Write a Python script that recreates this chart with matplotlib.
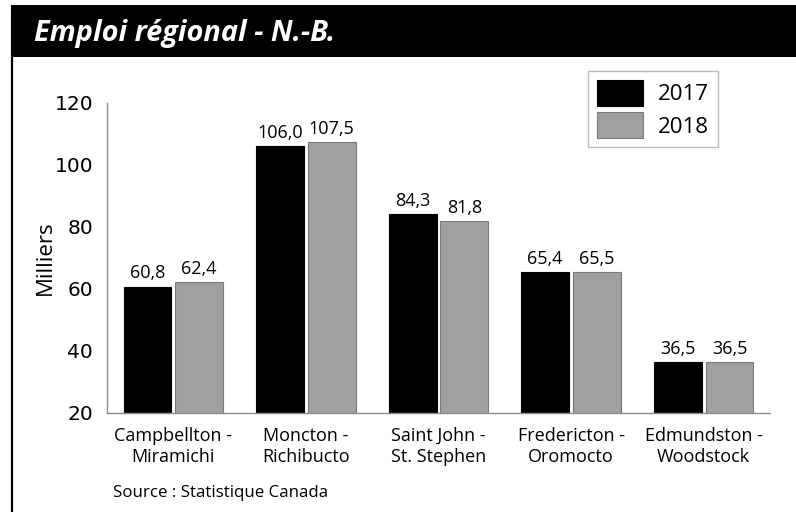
import matplotlib.pyplot as plt
import numpy as np
from matplotlib.patches import Rectangle
from matplotlib.lines import Line2D

regions = ["Campbellton -\nMiramichi", "Moncton -\nRichibucto", "Saint John -\nSt. Stephen",
           "Fredericton -\nOromocto", "Edmundston -\nWoodstock"]
years = ["2017", "2018"]
emp_2017 = [60.8, 106.0, 84.3, 65.4, 36.5]
emp_2018 = [62.4, 107.5, 81.8, 65.5, 36.5]
yticks = [20, 40, 60, 80, 100, 120]

plt.rcParams['font.family'] = ['Open Sans', 'DejaVu Sans']

fig = plt.figure(figsize=(7.96, 5.12), dpi=100)

# title band + left border
fig.patches.append(Rectangle((11/796, 1 - 57/512), 1, 52/512, transform=fig.transFigure,
                             facecolor='black', edgecolor='none'))
fig.lines.append(Line2D([12/796, 12/796], [0, 1 - 10/512], transform=fig.transFigure,
                        color='black', lw=1.6))
fig.text(34/796, 1 - 34/512, "Emploi régional - N.-B.", color='white', fontsize=20.8,
         fontweight='bold', fontstyle='italic', va='center', ha='left')

ax = fig.add_axes([107/796, 1 - 413/512, (770 - 107)/796, (413 - 103)/512])
x = np.arange(len(regions))
w = 0.36
off = 0.195
ax.bar(x - off, np.array(emp_2017) - 20, w, bottom=20, color='black', edgecolor='black',
       lw=0.8, label=years[0])
ax.bar(x + off, np.array(emp_2018) - 20, w, bottom=20, color='#a0a0a0', edgecolor='#7a7a7a',
       lw=0.8, label=years[1])
for xs, vals in ((x - off, emp_2017), (x + off, emp_2018)):
    for xi, v in zip(xs, vals):
        ax.text(xi, v + 1.3, f"{v:.1f}".replace('.', ','), ha='center', va='bottom', fontsize=13)

ax.set_xlim(-0.5, 4.5)
ax.set_ylim(20, 120)
ax.set_yticks(yticks)
ax.set_yticklabels([str(t) for t in yticks], family='DejaVu Sans', fontsize=14.5)
ax.set_xticks(x)
ax.set_xticklabels(regions, fontsize=13, linespacing=1.25)
ax.tick_params(length=0, pad=10)
ax.tick_params(axis='x', pad=10)
for s in ['top', 'right']:
    ax.spines[s].set_visible(False)
for s in ['left', 'bottom']:
    ax.spines[s].set_color('#8c8c8c')
    ax.spines[s].set_linewidth(1.0)
ax.set_ylabel("Milliers", fontsize=16)
ax.yaxis.set_label_coords((56 - 107)/663, 0.5)

leg = ax.legend(loc='upper left', bbox_to_anchor=((588 - 107)/663, 1 + (103 - 71)/310),
                fontsize=16, frameon=True, fancybox=False, edgecolor='#aaaaaa',
                handlelength=2.07, handleheight=1.44, borderpad=0.4, labelspacing=0.27,
                handletextpad=0.68, borderaxespad=0)
leg.get_frame().set_linewidth(1.0)

fig.text(113/796, 1 - 493/512, "Source : Statistique Canada", fontsize=12.2, va='center', ha='left')

fig.savefig("out.png", dpi=100)
